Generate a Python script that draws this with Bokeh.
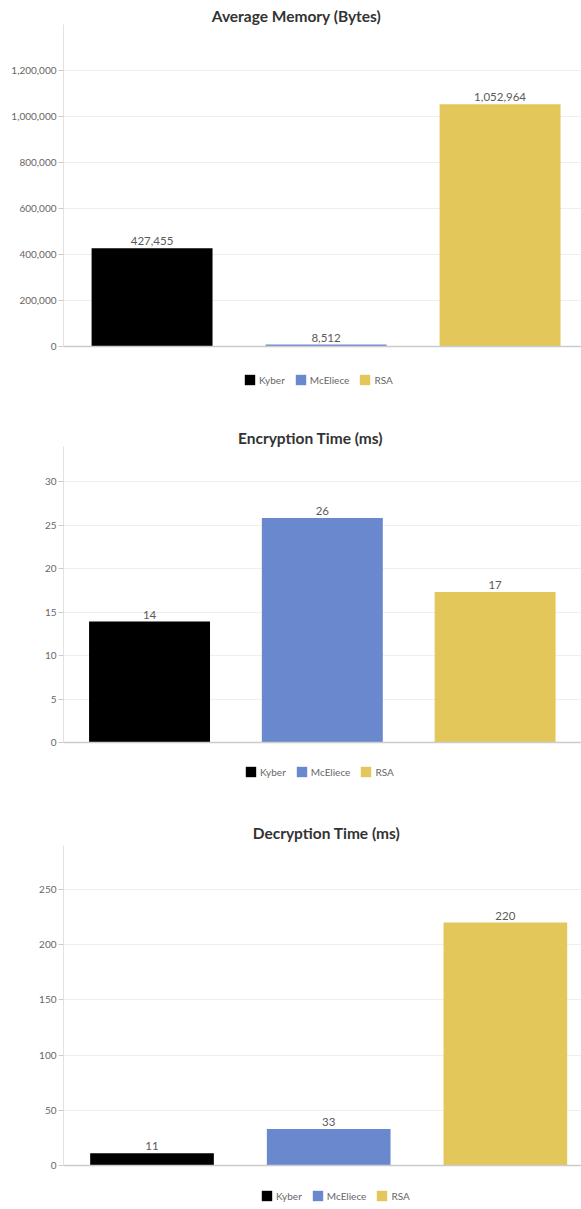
from bokeh.plotting import figure
from bokeh.layouts import column
from bokeh.models import (Range1d, FixedTicker, NumeralTickFormatter, Label, Span,
                          Legend, LegendItem, ColumnDataSource)
from bokeh.core.properties import value
from bokeh.embed import file_html
from bokeh.resources import INLINE

# ---------------- data ----------------
algorithms = ["Kyber", "McEliece", "RSA"]
colors = ["#000000", "#6A88CE", "#E3C75B"]

memory_title = "Average Memory (Bytes)"
memory_values = [427455, 8512, 1052964]
memory_ticks = [0, 200000, 400000, 600000, 800000, 1000000, 1200000]
memory_axis_top = 1400000

enc_title = "Encryption Time (ms)"
enc_values = [13.9, 25.8, 17.3]
enc_labels = ["14", "26", "17"]
enc_ticks = [0, 5, 10, 15, 20, 25, 30]
enc_axis_top = 34

dec_title = "Decryption Time (ms)"
dec_values = [11, 33, 220]
dec_labels = ["11", "33", "220"]
dec_ticks = [0, 50, 100, 150, 200, 250]
dec_axis_top = 290

FONT = "Lato"


def make_chart(title, vals, labels, ticks, axis_top, height, left, base_px,
               ref_val, ref_px, xr, bar_w, title_x, title_y, legend_xy, fmt=None):
    # y range so that 0 sits at pixel base_px and ref_val at ref_px (pixels from top)
    k = (base_px - ref_px) / ref_val
    y0 = -(height - base_px) / k
    y1 = base_px / k
    p = figure(width=581, height=height, output_backend="svg", toolbar_location=None,
               x_range=Range1d(*xr), y_range=Range1d(y0, y1), x_axis_location=None,
               min_border_top=0, min_border_bottom=0, min_border_left=left,
               min_border_right=0)
    p.outline_line_color = None
    p.background_fill_color = "white"
    p.xgrid.grid_line_color = None
    p.ygrid.ticker = FixedTicker(ticks=ticks[1:])
    p.ygrid.grid_line_color = "#efefef"

    xs = list(range(len(vals)))
    src = ColumnDataSource(dict(x=xs, top=vals, label=labels))
    renderers = []
    for i in range(len(vals)):
        r = p.vbar(x=[xs[i]], top=[vals[i]], width=bar_w, fill_color=colors[i],
                   line_color=None)
        renderers.append(r)
    p.add_layout(Span(location=0, dimension="width", line_color="#cccccc", line_width=1.5))
    p.text(x="x", y="top", text="label", source=src, text_align="center",
           text_baseline="bottom", y_offset=-3, text_font=value(FONT),
           text_font_size="11.5px", text_color="#5a5a5a")

    yax = p.yaxis[0]
    yax.bounds = (0, axis_top)
    yax.ticker = FixedTicker(ticks=ticks)
    if fmt:
        yax.formatter = NumeralTickFormatter(format=fmt)
    yax.axis_line_color = "#e2e2e2"
    yax.major_tick_line_color = "#cccccc"
    yax.major_tick_out = 5
    yax.major_tick_in = 0
    yax.minor_tick_line_color = None
    yax.major_label_standoff = 2
    yax.major_label_text_font = FONT
    yax.major_label_text_font_size = "10px"
    yax.major_label_text_color = "#666666"

    p.add_layout(Label(x=title_x, y=height - title_y, x_units="screen", y_units="screen",
                       text=title, text_align="center", text_baseline="middle",
                       text_font=FONT, text_font_style="bold", text_font_size="15.5px",
                       text_color="#333333"))

    items = [LegendItem(label=algorithms[i], renderers=[renderers[i]]) for i in range(len(vals))]
    leg = Legend(items=items, orientation="horizontal", location=legend_xy,
                 glyph_width=13, glyph_height=13, label_standoff=3, spacing=9,
                 padding=0, margin=0, border_line_color=None,
                 background_fill_alpha=0,
                 label_text_font=FONT, label_text_font_size="10px",
                 label_text_color="#666666", label_height=13)
    p.add_layout(leg, "center")
    return p


p1 = make_chart(memory_title, memory_values, [f"{v:,}" for v in memory_values], memory_ticks,
                memory_axis_top, 400, 63, 346, 1000000, 116,
                (-0.509, 2.468), 0.695, 296 - 63, 15, (180, 14), fmt="0,0")
p2 = make_chart(enc_title, enc_values, enc_labels, enc_ticks, enc_axis_top,
                395, 52, 342, 30, 81,
                (-0.498, 2.50), 0.70, 299 - 52, 37, (181, 17))
p3 = make_chart(dec_title, dec_values, dec_labels, dec_ticks, dec_axis_top,
                414, 37, 370, 250, 94,
                (-0.501, 2.431), 0.70, 300 - 37, 37, (197, 7))

layout = column(p1, p2, p3, spacing=0)
open("out.html", "w").write(file_html(layout, INLINE))
